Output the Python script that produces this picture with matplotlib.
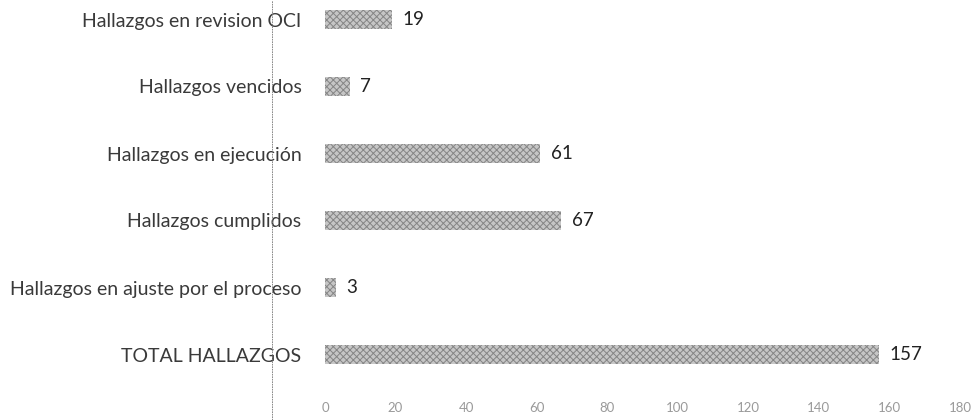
import matplotlib
matplotlib.use("Agg")
import matplotlib.pyplot as plt
from matplotlib.lines import Line2D

categories = [
    "TOTAL HALLAZGOS",
    "Hallazgos en ajuste por el proceso",
    "Hallazgos cumplidos",
    "Hallazgos en ejecución",
    "Hallazgos vencidos",
    "Hallazgos en revision OCI",
]
values = [157, 3, 67, 61, 7, 19]
xticks = [0, 20, 40, 60, 80, 100, 120, 140, 160, 180]

plt.rcParams["font.family"] = ["Lato", "DejaVu Sans"]
plt.rcParams["hatch.linewidth"] = 0.7
plt.rcParams["hatch.color"] = "#858585"

fig = plt.figure(figsize=(9.78, 4.2), dpi=100)
ax = fig.add_axes([325 / 978, (420 - 388) / 420, (960 - 325) / 978, 388 / 420])

ypos = list(range(len(categories)))
ax.barh(ypos, values, height=0.28, color="#c6c6c6", linewidth=0, hatch="xxxxx")
for y, v in zip(ypos, values):
    ax.annotate(str(v), (v, y), xytext=(7.5, 0), textcoords="offset points",
                va="center", ha="left", fontsize=13.5, color="#222222")

ax.set_xlim(0, 180)
ax.set_ylim(-0.5, -0.5 + 388 / 67)
ax.set_yticks(ypos)
ax.set_yticklabels(categories, fontsize=14, color="#3a3a3a")
ax.set_xticks(xticks)
ax.set_xticklabels([str(t) for t in xticks], fontsize=9.5, color="#9a9a9a")
ax.tick_params(axis="both", length=0)
ax.tick_params(axis="y", pad=17)
ax.tick_params(axis="x", pad=10)
for s in ax.spines.values():
    s.set_visible(False)

fig.add_artist(Line2D([272 / 978, 272 / 978], [0, 1], transform=fig.transFigure,
                      color="#777777", linewidth=0.6, linestyle=(0, (2, 1))))

fig.savefig("out.png", dpi=100, facecolor="white")
